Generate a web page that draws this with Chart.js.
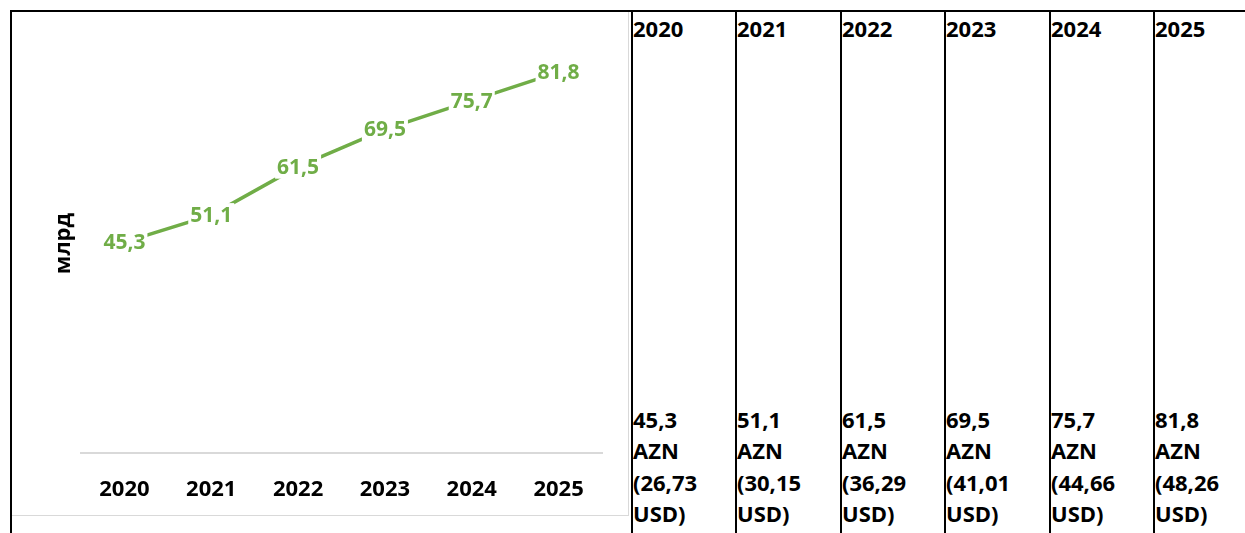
<!DOCTYPE html>
<html>
<head>
<meta charset="utf-8">
<script src="https://cdn.jsdelivr.net/npm/chart.js"></script>
<style>
  html, body { margin: 0; padding: 0; background: #fff; overflow: hidden; }
  body { width: 1245px; height: 533px; position: relative; font-family: "Open Sans", sans-serif; }
  .frame { position: absolute; left: 10px; top: 10px; width: 1240px; height: 530px;
           border-top: 2px solid #000; border-left: 2px solid #000; }
  .chartBox { position: absolute; left: 12px; top: 12px; width: 616px; height: 503px;
              border-right: 1px solid #d9d9d9; border-bottom: 1px solid #d9d9d9; }
  .col { position: absolute; top: 12px; height: 530px; border-left: 2px solid #000;
         font-weight: bold; font-size: 22px; color: #000; white-space: nowrap; }
  .col .head { position: absolute; left: 0; top: 3px; line-height: 26px; }
  .col .foot { position: absolute; left: 0; top: 392px; line-height: 31.33px; }
</style>
</head>
<body>
<div class="frame"></div>
<div class="chartBox"><canvas id="lineChart"></canvas></div>
<div id="table"></div>
<script>
// ##################### DATA #######################
const years = ['2020', '2021', '2022', '2023', '2024', '2025'];
const aznValues = [45.3, 51.1, 61.5, 69.5, 75.7, 81.8];
const usdValues = [26.73, 30.15, 36.29, 41.01, 44.66, 48.26];
const yTitle = 'млрд';

const fmt = (v, d) => v.toFixed(d).replace('.', ',');

// ##################### TABLE #######################
const table = document.getElementById('table');
years.map((year, i) => {
    const col = document.createElement('div');
    col.className = 'col';
    col.style.left = (631 + Math.round(i * 104.4)) + 'px';
    col.style.width = '102px';
    col.innerHTML = '<div class="head">' + year + '</div>' +
        '<div class="foot">' + fmt(aznValues[i], 1) + '<br>AZN<br>(' +
        fmt(usdValues[i], 2) + '<br>USD)</div>';
    table.appendChild(col);
});

// ##################### LINE CHART #######################
const green = '#70AD47';

const valueLabels = {
    id: 'valueLabels',
    afterDatasetsDraw(chart) {
        const ctx = chart.ctx;
        const meta = chart.getDatasetMeta(0);
        ctx.save();
        ctx.font = 'bold 21px "Open Sans"';
        ctx.textAlign = 'center';
        ctx.textBaseline = 'middle';
        meta.data.forEach((pt, i) => {
            const text = fmt(aznValues[i], 1);
            const w = ctx.measureText(text).width;
            ctx.fillStyle = '#fff';
            ctx.fillRect(pt.x - w / 2 - 2, pt.y - 12, w + 4, 24);
            ctx.fillStyle = green;
            ctx.fillText(text, pt.x, pt.y + 1);
        });
        ctx.restore();
    }
};

const ctx = document.getElementById('lineChart');
const lineChart = new Chart(ctx, {
    type: 'line',
    data: {
        labels: years,
        datasets: [{
            data: aznValues,
            borderColor: green,
            borderWidth: 3.5,
            pointRadius: 0,
            tension: 0,
            fill: false,
        }]
    },
    options: {
        responsive: true,
        maintainAspectRatio: false,
        animation: false,
        events: [],
        layout: { padding: { top: 22, right: 26, left: 0, bottom: 0 } },
        plugins: {
            legend: { display: false },
            tooltip: { enabled: false },
        },
        scales: {
            x: {
                offset: true,
                grid: { display: false, drawTicks: false },
                border: { display: true, color: '#d9d9d9', width: 2 },
                ticks: {
                    color: '#000',
                    font: { family: 'Open Sans', size: 22, weight: 'bold' },
                    padding: 24,
                    maxRotation: 0,
                },
                afterFit: s => { s.height = 62; },
            },
            y: {
                min: 0,
                max: 90,
                grid: { display: false },
                border: { display: false },
                ticks: { display: false },
                title: {
                    display: true,
                    text: yTitle,
                    color: '#000',
                    font: { family: 'Open Sans', size: 22, weight: 'bold' },
                    padding: { top: 39, bottom: 0 },
                },
                afterFit: s => { s.width = 69; },
            }
        }
    },
    plugins: [valueLabels]
});
</script>
</body>
</html>
